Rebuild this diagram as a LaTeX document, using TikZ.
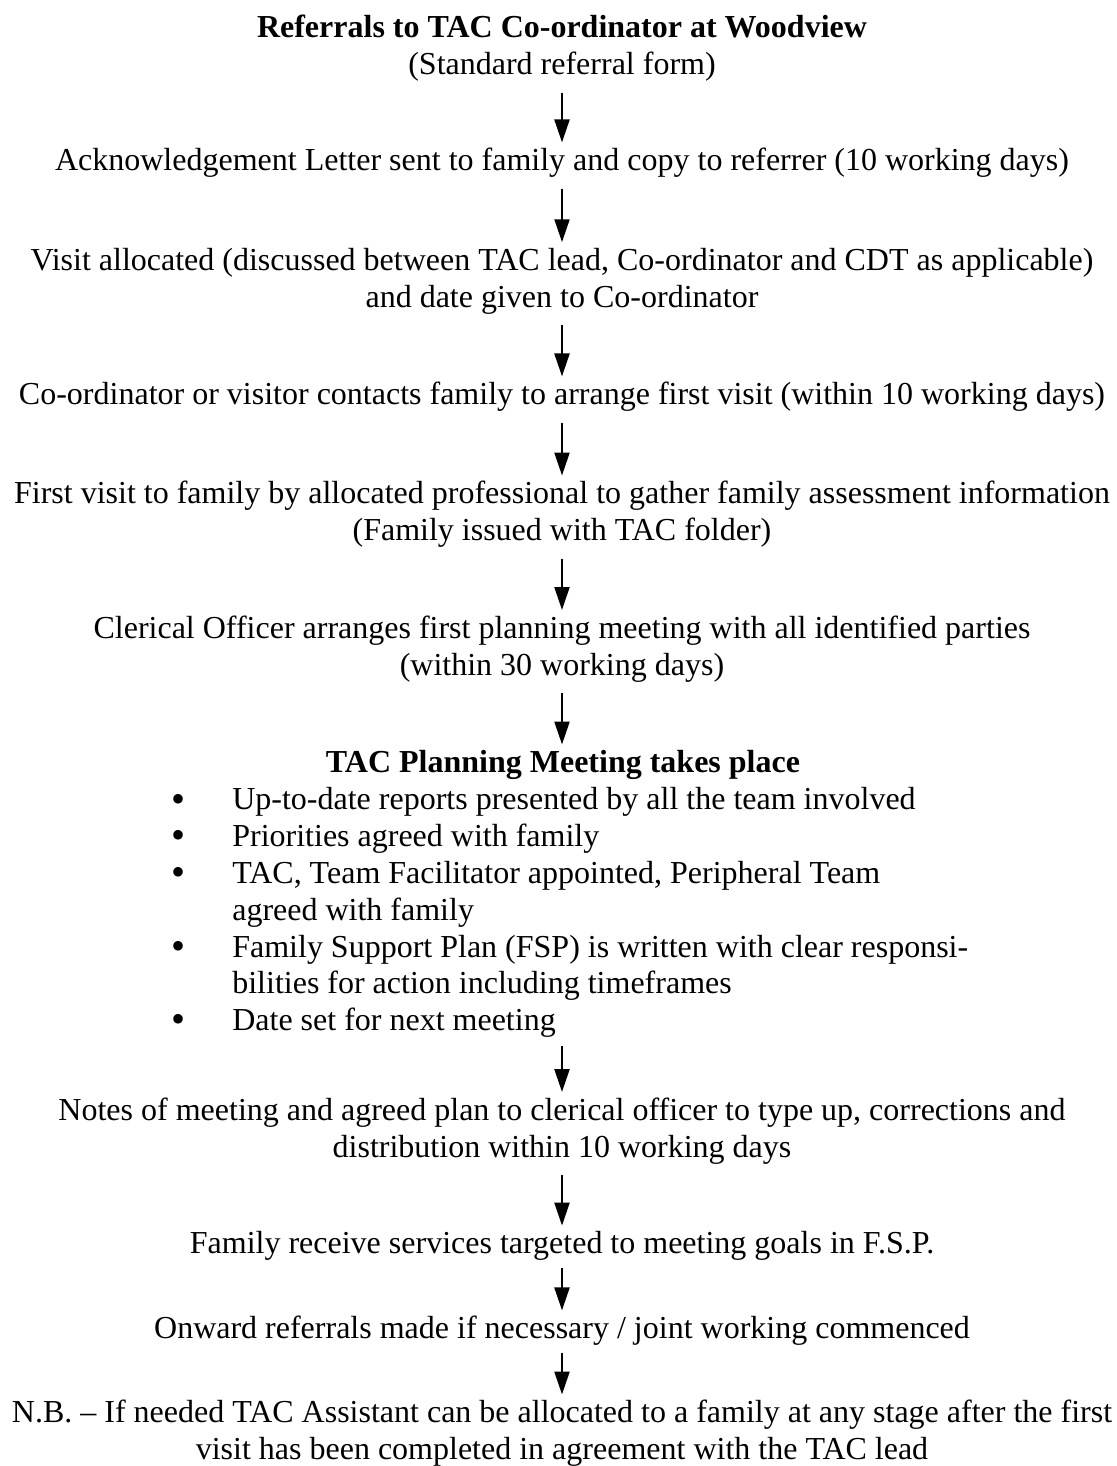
\documentclass[tikz,border=0pt]{standalone}
\usepackage{fontspec}
\setmainfont{Liberation Serif}
\usepackage{tikz}
\usetikzlibrary{arrows.meta,positioning,calc}
\definecolor{FInk}{HTML}{000000}
\newcommand{\dotmark}{\raisebox{-0.8pt}{\fontsize{15}{15}\selectfont\textbullet}}
\tikzset{
  stage/.style={inner sep=0pt,align=center,text=FInk,
                font=\fontsize{12}{13.8}\selectfont},
  flow/.style={draw=FInk,line width=0.85pt,
               -{Triangle[length=8.6pt,width=5.6pt]},
               shorten <=3.9pt,shorten >=2pt}
}
\begin{document}
\begin{tikzpicture}[x=0.375pt,y=-0.375pt]
  \useasboundingbox (0,0) rectangle (1117,1466);
  \coordinate (ax) at (562,0);

  \node[stage] (refer) at (562,48.5) {%
    \textbf{Referrals to TAC Co-ordinator at Woodview}\\
    (Standard referral form)};
  \node[stage] (ack) at (562,163)
    {Acknowledgement Letter sent to family and copy to referrer (10 working days)};
  \node[stage] (visit) at (562,281) {%
    Visit allocated (discussed between TAC lead, Co-ordinator and CDT as applicable)\\
    and date given to Co-ordinator};
  \node[stage] (contact) at (562,397)
    {Co-ordinator or visitor contacts family to arrange first visit (within 10 working days)};
  \node[stage] (first) at (562,514.5) {%
    First visit to family by allocated professional to gather family assessment information\\
    (Family issued with TAC folder)};
  \node[stage] (clerk) at (562,649) {%
    Clerical Officer arranges first planning meeting with all identified parties\\
    (within 30 working days)};
  \node[stage] (meet) at (563,765) {\textbf{TAC Planning Meeting takes place}};
  \node[stage,anchor=west,align=left] (tasks) at (171,913) {%
    \begin{tabular}{@{}p{22.8pt}@{}l@{}}
      \dotmark & Up-to-date reports presented by all the team involved\\
      \dotmark & Priorities agreed with family\\
      \dotmark & TAC, Team Facilitator appointed, Peripheral Team\\
               & agreed with family\\
      \dotmark & Family Support Plan (FSP) is written with clear responsi-\\
               & bilities for action including timeframes\\
      \dotmark & Date set for next meeting
    \end{tabular}};
  \node[stage] (notes) at (562,1131) {%
    Notes of meeting and agreed plan to clerical officer to type up, corrections and\\
    distribution within 10 working days};
  \node[stage] (services) at (562,1246)
    {Family receive services targeted to meeting goals in F.S.P.};
  \node[stage] (onward) at (562,1331)
    {Onward referrals made if necessary / joint working commenced};
  \node[stage] (nb) at (562,1433.5) {%
    N.B. -- If needed TAC Assistant can be allocated to a family at any stage after the first\\
    visit has been completed in agreement with the TAC lead};

  \draw[flow] (refer.south -| ax) -- (ack.north -| ax);
  \draw[flow] (ack.south -| ax) -- (visit.north -| ax);
  \draw[flow] (visit.south -| ax) -- (contact.north -| ax);
  \draw[flow] (contact.south -| ax) -- (first.north -| ax);
  \draw[flow] (first.south -| ax) -- (clerk.north -| ax);
  \draw[flow] (clerk.south -| ax) -- (meet.north -| ax);
  \draw[flow,shorten <=1.4pt] (tasks.south -| ax) -- (notes.north -| ax);
  \draw[flow] (notes.south -| ax) -- (services.north -| ax);
  \draw[flow,shorten <=2.5pt] (services.south -| ax) -- (onward.north -| ax);
  \draw[flow,shorten <=2.5pt] (onward.south -| ax) -- (nb.north -| ax);
\end{tikzpicture}
\end{document}
